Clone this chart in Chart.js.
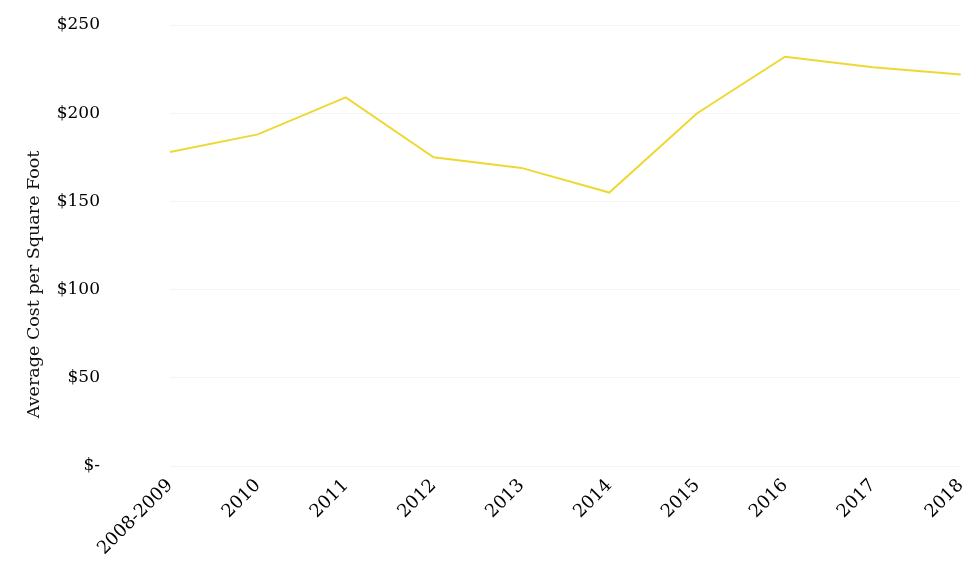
<!DOCTYPE html>
<html>
<head>
<meta charset="utf-8">
<script src="https://cdn.jsdelivr.net/npm/chart.js@4.4.0/dist/chart.umd.min.js"></script>
<style>
  html, body { margin: 0; padding: 0; background: #fff; }
  #wrap { width: 977px; height: 571px; position: relative; }
</style>
</head>
<body>
<div id="wrap"><canvas id="costChart"></canvas></div>
<script>
// Chart data
const years = ['2008-2009', '2010', '2011', '2012', '2013', '2014', '2015', '2016', '2017', '2018'];
const costPerSqFt = [178, 188, 209, 175, 169, 155, 200, 232, 226, 222];
const yTicks = [0, 50, 100, 150, 200, 250];

const serif = "'DejaVu Serif', 'Liberation Serif', serif";

new Chart(document.getElementById('costChart'), {
    type: 'line',
    data: {
        labels: years,
        datasets: [{
            label: 'Average Cost per Square Foot',
            data: costPerSqFt,
            borderColor: '#EFD833',
            borderWidth: 2,
            pointRadius: 0,
            tension: 0,
            fill: false
        }]
    },
    options: {
        responsive: true,
        maintainAspectRatio: false,
        animation: false,
        layout: { padding: { top: 25, right: 15, left: 24, bottom: 0 } },
        plugins: {
            legend: { display: false },
            tooltip: { enabled: false }
        },
        scales: {
            x: {
                offset: false,
                grid: { display: false },
                border: { display: false },
                afterFit: function(scale) {
                    scale.height = 105;
                },
                ticks: {
                    minRotation: 45,
                    maxRotation: 45,
                    padding: 1,
                    color: '#000',
                    font: { family: serif, size: 18 }
                }
            },
            y: {
                min: 0,
                max: 250,
                afterBuildTicks: function(scale) {
                    scale.ticks = yTicks.map(v => ({ value: v }));
                },
                afterFit: function(scale) {
                    // big tick padding would otherwise push the plot down
                    scale.width = 146;
                    scale.paddingTop = 0;
                    scale.paddingBottom = 0;
                },
                grid: { color: '#f3f3f3', drawTicks: false },
                border: { display: false },
                ticks: {
                    padding: 70,
                    color: '#000',
                    font: { family: serif, size: 17 },
                    callback: function(v) {
                        return v === 0 ? '$-' : '$' + v;
                    }
                },
                title: {
                    display: true,
                    // trailing spaces nudge the centred title a bit lower, like the original
                    text: 'Average Cost per Square Foot              ',
                    color: '#111',
                    font: { family: serif, size: 17.5 },
                    padding: { top: 0, bottom: 0 }
                }
            }
        }
    }
});
</script>
</body>
</html>
